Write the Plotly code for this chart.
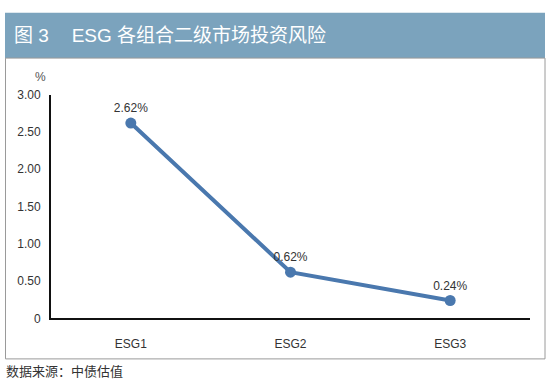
import plotly.graph_objects as go

categories = ["ESG1", "ESG2", "ESG3"]
values = [2.62, 0.62, 0.24]
labels = ["2.62%", "0.62%", "0.24%"]
y_ticks = [0, 0.5, 1.0, 1.5, 2.0, 2.5, 3.0]
y_ticktext = ["0", "0.50", "1.00", "1.50", "2.00", "2.50", "3.00"]

W, H = 550, 390
def px(x): return x / W
def py(y): return 1 - y / H

FONT = "Liberation Sans, Arial, Noto Sans CJK SC, sans-serif"
CJK = "Liberation Sans, Noto Sans CJK SC, sans-serif"

fig = go.Figure()
fig.add_trace(go.Scatter(
    x=categories, y=values, mode="lines+markers+text",
    text=labels, textposition="top center",
    textfont=dict(family=FONT, size=12, color="#333333"),
    line=dict(color="#4A78AE", width=4),
    marker=dict(color="#4A78AE", size=11),
    cliponaxis=False, hoverinfo="skip",
))

fig.update_layout(
    width=W, height=H, margin=dict(l=0, r=0, t=0, b=0),
    paper_bgcolor="white", plot_bgcolor="white", showlegend=False,
    xaxis=dict(domain=[px(51), px(530)], range=[-0.5, 2.5], type="category",
               showgrid=False, zeroline=False, showline=True, linecolor="#111111",
               linewidth=2, ticks="", tickfont=dict(family=FONT, size=12, color="#333333"),
               ticklabelstandoff=13),
    yaxis=dict(domain=[py(323), py(91)], range=[0, 3], tickvals=y_ticks,
               ticktext=y_ticktext, showgrid=False, zeroline=False, showline=True,
               linecolor="#111111", linewidth=2, ticks="",
               tickfont=dict(family=FONT, size=12, color="#333333"),
               ticklabelstandoff=6),
    shapes=[
        dict(type="rect", xref="paper", yref="paper", x0=px(5), x1=px(545),
             y0=py(53), y1=py(6), fillcolor="#7BA3BD", line=dict(width=0), layer="below"),
        dict(type="rect", xref="paper", yref="paper", x0=px(5.5), x1=px(545),
             y0=py(365), y1=py(53), fillcolor="rgba(0,0,0,0)",
             line=dict(color="#9A9A9A", width=1), layer="below"),
    ],
    annotations=[
        dict(text="图 3\u2003\u2009ESG 各组合二级市场投资风险", xref="paper", yref="paper",
             x=px(12), y=py(30), xanchor="left", yanchor="middle", showarrow=False,
             font=dict(family=CJK, size=19, color="white")),
        dict(text="%", xref="paper", yref="paper", x=px(40), y=py(73),
             xanchor="center", yanchor="middle", showarrow=False,
             font=dict(family=FONT, size=12, color="#555555")),
        dict(text="数据来源：中债估值", xref="paper", yref="paper", x=px(4), y=py(378),
             xanchor="left", yanchor="middle", showarrow=False,
             font=dict(family=CJK, size=13, color="#333333")),
    ],
)

fig.write_html("out.html", config={"displayModeBar": False},
               post_script="document.body.style.margin='0';document.body.style.overflow='hidden';")
